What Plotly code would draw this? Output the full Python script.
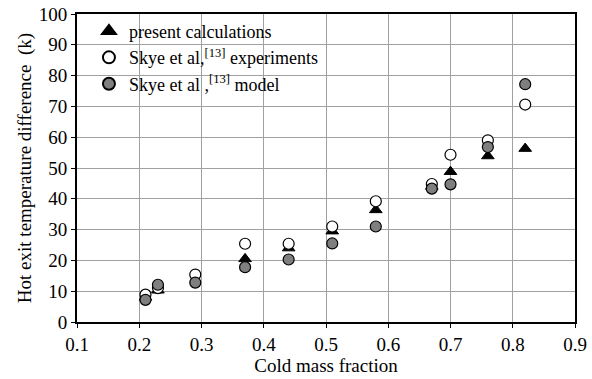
import plotly.graph_objects as go

x_calc = [0.21, 0.23, 0.37, 0.44, 0.51, 0.58, 0.67, 0.70, 0.76, 0.82]
y_calc = [8.0, 10.3, 20.5, 24.0, 29.5, 36.4, 44.0, 48.8, 53.9, 56.3]

x_exp = [0.21, 0.23, 0.29, 0.37, 0.44, 0.51, 0.58, 0.67, 0.70, 0.76, 0.82]
y_exp = [8.9, 11.0, 15.4, 25.4, 25.4, 31.0, 39.2, 44.8, 54.3, 59.0, 70.6]

x_mod = [0.21, 0.23, 0.29, 0.37, 0.44, 0.51, 0.58, 0.67, 0.70, 0.76, 0.82]
y_mod = [7.2, 12.1, 12.8, 17.8, 20.3, 25.5, 31.0, 43.3, 44.7, 56.8, 77.2]

font = "Liberation Serif, Times New Roman, serif"

fig = go.Figure()
fig.add_trace(go.Scatter(x=x_calc, y=y_calc, mode="markers", name="present calculations",
                         marker=dict(symbol="triangle-up", size=11, color="black",
                                     line=dict(color="black", width=1))))
fig.add_trace(go.Scatter(x=x_exp, y=y_exp, mode="markers",
                         name="Skye et al,<sup>[13]</sup> experiments",
                         marker=dict(symbol="circle", size=11, color="white",
                                     line=dict(color="black", width=1.2))))
fig.add_trace(go.Scatter(x=x_mod, y=y_mod, mode="markers",
                         name="Skye et al ,<sup>[13]</sup> model",
                         marker=dict(symbol="circle", size=11, color="#7f7f7f",
                                     line=dict(color="black", width=1.2))))

fig.update_layout(
    width=592, height=379,
    margin=dict(l=77, r=17, t=14, b=57, autoexpand=False),
    paper_bgcolor="white", plot_bgcolor="white",
    font=dict(family=font, size=19, color="black"),
    showlegend=True,
    legend=dict(x=0.024, y=1.004, xanchor="left", yanchor="top",
                bgcolor="rgba(0,0,0,0)", font=dict(family=font, size=18, color="black"),
                itemsizing="constant", tracegroupgap=0),
)
fig.update_xaxes(range=[0.1, 0.9], dtick=0.1, tick0=0.1, tickformat=".1f",
                 showgrid=True, gridcolor="#a0a0a0", gridwidth=1,
                 showline=True, linecolor="black", linewidth=2, mirror=True,
                 ticks="outside", ticklen=4, tickcolor="black", automargin=False,
                 zeroline=False, tickfont=dict(family=font, size=19, color="black"),
                 title=dict(text="Cold mass fraction", font=dict(family=font, size=19, color="black"), standoff=3))
fig.update_yaxes(range=[0, 100], dtick=10,
                 showgrid=True, gridcolor="#a0a0a0", gridwidth=1,
                 showline=True, linecolor="black", linewidth=2, mirror=True,
                 ticks="outside", ticklen=4, tickcolor="black", automargin=False,
                 zeroline=False, tickfont=dict(family=font, size=19, color="black"),
                 title=dict(text="Hot exit temperature difference  (k)", font=dict(family=font, size=19, color="black"), standoff=2))

fig.write_html("out.html")
